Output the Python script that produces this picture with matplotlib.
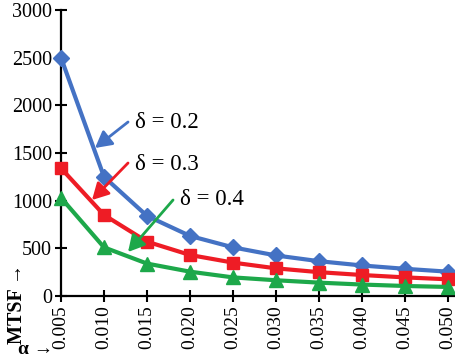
import matplotlib
matplotlib.use("Agg")
import matplotlib.pyplot as plt

alpha_labels = ["0.005", "0.010", "0.015", "0.020", "0.025", "0.030", "0.035", "0.040", "0.045", "0.050"]
mtsf_d02 = [2500, 1250, 840, 630, 510, 425, 365, 320, 285, 255]
mtsf_d03 = [1340, 850, 570, 430, 350, 290, 250, 220, 195, 175]
mtsf_d04 = [1030, 510, 340, 255, 195, 165, 140, 120, 105, 95]
y_ticks = [0, 500, 1000, 1500, 2000, 2500, 3000]

plt.rcParams['font.family'] = ['Liberation Serif', 'DejaVu Serif']

fig = plt.figure(figsize=(4.56, 3.6), dpi=100)
ax = fig.add_axes([0.1338, 0.1778, 0.864, 0.7944])

x = list(range(len(alpha_labels)))
blue, red, green = '#4472C4', '#EE1C25', '#1DA84A'
ax.plot(x, mtsf_d02, color=blue, lw=3, marker='D', ms=8, clip_on=False, zorder=3)
ax.plot(x, mtsf_d03, color=red, lw=3, marker='s', ms=9, clip_on=False, zorder=3)
ax.plot(x, mtsf_d04, color=green, lw=3, marker='^', ms=10, clip_on=False, zorder=3)

ax.set_xlim(0, 9.16)
ax.set_ylim(0, 3000)
ax.set_xticks(x)
ax.set_xticklabels(alpha_labels, rotation=90, fontsize=14)
ax.set_yticks(y_ticks)
ax.set_yticklabels([str(v) for v in y_ticks], fontsize=14.5)
ax.tick_params(axis='both', direction='inout', length=9, width=1.5, pad=2)
for s in ['top', 'right']:
    ax.spines[s].set_visible(False)
for s in ['left', 'bottom']:
    ax.spines[s].set_linewidth(1.6)

def px2data(px, py):
    xd = (px - 61) / 43.0
    yd = (296 - py) / 286.0 * 3000
    return xd, yd

def ann(txt, tip, tail, textpos, col):
    ax.annotate('', xy=px2data(*tip), xytext=px2data(*tail),
                arrowprops=dict(arrowstyle='-|>,head_length=0.55,head_width=0.3', color=col, lw=2,
                                shrinkA=0, shrinkB=0, mutation_scale=18))
    ax.text(*px2data(*textpos), txt, fontsize=16.5, va='center', ha='left')

ann('δ = 0.2', (95, 148), (128, 122), (135, 122), blue)
ann('δ = 0.3', (92, 200), (128, 163), (135, 165), red)
ann('δ = 0.4', (128, 252), (173, 200), (180, 200), green)

fig.text(17, 360 - 304, 'MTSF →', transform=None, rotation=90, ha='center', va='center',
         fontsize=14.5, fontweight='bold')
fig.text(36 / 456, 1 - 350 / 360, 'α →', ha='center', va='center', fontsize=14, fontweight='bold')

fig.savefig('out.png', dpi=100)
